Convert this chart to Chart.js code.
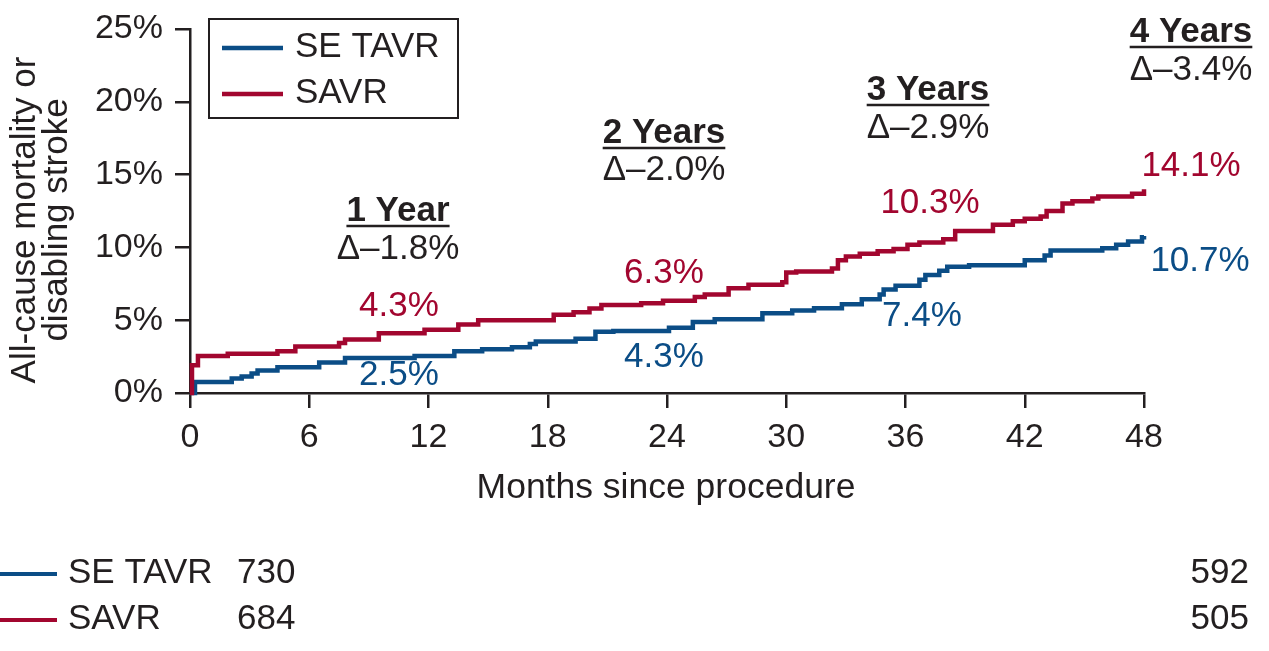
<!DOCTYPE html>
<html>
<head>
<meta charset="utf-8">
<script src="https://cdn.jsdelivr.net/npm/chart.js@4.4.1/dist/chart.umd.min.js"></script>
<style>
  body { margin: 0; background: #fff; }
  #wrap { width: 1269px; height: 651px; position: relative; }
</style>
</head>
<body>
<div id="wrap"><canvas id="kmChart"></canvas></div>
<script>
/* Data */
const seriesNames = ["SE TAVR", "SAVR"];

const monthsTavr = [0, 0.25, 2.1, 2.6, 3.1, 3.4, 4.4, 6.5, 7.8, 11.3, 13.3, 14.7, 16.2, 17.1, 17.4, 19.4, 20.4, 21.3, 24.1, 25.3, 26.4, 28.8, 30.3, 31.4, 32.8, 33.8, 34.7, 34.9, 35.5, 36.7, 37.0, 37.7, 38.1, 39.2, 42.0, 43.0, 43.3, 45.9, 46.6, 47.2, 47.9, 48.0];
const pctTavr = [0, 0.76, 1.0, 1.13, 1.34, 1.54, 1.76, 2.1, 2.4, 2.54, 2.87, 3.0, 3.14, 3.36, 3.54, 3.72, 4.2, 4.26, 4.48, 4.88, 5.06, 5.48, 5.66, 5.82, 6.1, 6.44, 6.77, 7.1, 7.37, 7.77, 8.1, 8.4, 8.67, 8.78, 9.11, 9.44, 9.78, 9.94, 10.18, 10.41, 10.7, 10.78];

const monthsSavr = [0, 0.1, 0.4, 1.9, 4.4, 5.3, 7.5, 7.8, 9.5, 11.8, 13.5, 14.5, 18.3, 19.3, 20.1, 20.7, 22.7, 23.8, 25.4, 25.9, 27.1, 28.1, 29.8, 30.0, 30.5, 32.3, 32.6, 33.0, 33.7, 34.6, 35.4, 36.1, 36.7, 37.9, 38.5, 40.4, 41.4, 42.0, 42.8, 43.1, 43.9, 44.4, 45.4, 45.7, 47.4, 48.0];
const pctSavr = [0, 1.9, 2.54, 2.7, 2.87, 3.2, 3.43, 3.68, 4.1, 4.34, 4.7, 5.0, 5.37, 5.55, 5.8, 6.04, 6.17, 6.33, 6.6, 6.77, 7.2, 7.44, 7.6, 8.27, 8.35, 8.55, 9.11, 9.38, 9.56, 9.74, 9.89, 10.18, 10.34, 10.56, 11.12, 11.56, 11.79, 11.96, 12.12, 12.5, 13.01, 13.17, 13.35, 13.5, 13.68, 14.0];

const xTicks = [0, 6, 12, 18, 24, 30, 36, 42, 48];
const yTicks = [0, 5, 10, 15, 20, 25];

const yearLabels = ["1 Year", "2 Years", "3 Years", "4 Years"];
const deltaLabels = ["\u0394\u20131.8%", "\u0394\u20132.0%", "\u0394\u20132.9%", "\u0394\u20133.4%"];
const savrRates = ["4.3%", "6.3%", "10.3%", "14.1%"];
const tavrRates = ["2.5%", "4.3%", "7.4%", "10.7%"];

const riskTavr = [730, 592];
const riskSavr = [684, 505];

const BLUE = "#0b4d86";
const RED = "#a2062f";
const INK = "#231f20";
const FONT = '"Liberation Sans", Arial, Helvetica, sans-serif';

function toPoints(xs, ys) {
  return xs.map((x, i) => ({ x: x, y: ys[i] }));
}

/* Text, legend box and number-at-risk rows */
const overlay = {
  id: "overlay",
  afterDraw(chart) {
    const ctx = chart.ctx;
    ctx.save();
    ctx.textBaseline = "middle";

    // y axis title (two rotated lines)
    ctx.fillStyle = INK;
    ctx.font = "35px " + FONT;
    ctx.textAlign = "center";
    [["All-cause mortality or", 25], ["disabling stroke", 57]].forEach(([t, x]) => {
      ctx.save();
      ctx.translate(x, 220);
      ctx.rotate(-Math.PI / 2);
      ctx.fillText(t, 0, 0);
      ctx.restore();
    });

    // x axis title
    ctx.font = "35.5px " + FONT;
    ctx.fillText("Months since procedure", 666, 488);

    // legend box
    ctx.font = "35px " + FONT;
    ctx.strokeStyle = INK;
    ctx.lineWidth = 2;
    ctx.strokeRect(209, 19, 249, 99);
    ctx.lineWidth = 4.5;
    [[BLUE, 48], [RED, 94]].forEach(([c, y], i) => {
      ctx.strokeStyle = c;
      ctx.beginPath();
      ctx.moveTo(222, y);
      ctx.lineTo(283, y);
      ctx.stroke();
      ctx.fillStyle = INK;
      ctx.textAlign = "left";
      ctx.fillText(seriesNames[i], 295, y - 1);
    });

    // year headings and deltas
    const headPos = [[398, 211, 249], [664, 133, 170], [928, 90, 128], [1191, 32, 70]];
    headPos.forEach(([x, yh, yd], i) => {
      ctx.fillStyle = INK;
      ctx.textAlign = "center";
      ctx.font = "bold 35px " + FONT;
      ctx.fillText(yearLabels[i], x, yh);
      const w = ctx.measureText(yearLabels[i]).width;
      ctx.strokeStyle = INK;
      ctx.lineWidth = 2.5;
      ctx.beginPath();
      ctx.moveTo(x - w / 2, yh + 15);
      ctx.lineTo(x + w / 2, yh + 15);
      ctx.stroke();
      ctx.font = "35px " + FONT;
      ctx.fillText(deltaLabels[i], x, yd);
    });

    // rate labels
    ctx.font = "35px " + FONT;
    ctx.textAlign = "center";
    const savrPos = [[399, 306], [664, 273], [930, 203], [1191, 166]];
    const tavrPos = [[399, 375], [664, 357], [922, 316], [1200, 261]];
    ctx.fillStyle = RED;
    savrPos.forEach(([x, y], i) => ctx.fillText(savrRates[i], x, y));
    ctx.fillStyle = BLUE;
    tavrPos.forEach(([x, y], i) => ctx.fillText(tavrRates[i], x, y));

    // number at risk rows
    const rows = [[seriesNames[0], riskTavr, BLUE, 573], [seriesNames[1], riskSavr, RED, 619]];
    rows.forEach(([name, nums, c, y]) => {
      ctx.strokeStyle = c;
      ctx.lineWidth = 4;
      ctx.beginPath();
      ctx.moveTo(0, y + 1);
      ctx.lineTo(57, y + 1);
      ctx.stroke();
      ctx.fillStyle = INK;
      ctx.textAlign = "left";
      ctx.fillText(name, 68, y);
      ctx.fillText(String(nums[0]), 237, y);
      ctx.textAlign = "right";
      ctx.fillText(String(nums[1]), 1249, y);
    });

    ctx.restore();
  }
};

const ctx = document.getElementById("kmChart").getContext("2d");
const chart = new Chart(ctx, {
  type: "line",
  data: {
    datasets: [
      {
        label: seriesNames[1],
        data: toPoints(monthsSavr, pctSavr),
        borderColor: RED,
        borderWidth: 4.5,
        stepped: true,
        pointRadius: 0,
        fill: false
      },
      {
        label: seriesNames[0],
        data: toPoints(monthsTavr, pctTavr),
        borderColor: BLUE,
        borderWidth: 4.5,
        stepped: true,
        pointRadius: 0,
        fill: false
      }
    ]
  },
  options: {
    responsive: true,
    maintainAspectRatio: false,
    animation: false,
    clip: false,
    layout: { padding: { left: 0, top: 19, right: 125, bottom: 0 } },
    plugins: {
      legend: { display: false },
      tooltip: { enabled: false }
    },
    scales: {
      x: {
        type: "linear",
        min: 0,
        max: 48,
        afterBuildTicks: s => { s.ticks = xTicks.map(v => ({ value: v })); },
        afterFit: s => { s.height = 258; },
        border: { color: INK, width: 2.5 },
        grid: { drawOnChartArea: false, drawTicks: true, tickLength: 15, color: INK, lineWidth: 2.5 },
        ticks: {
          color: INK,
          font: { family: FONT, size: 34, lineHeight: 1 },
          padding: 13,
          maxRotation: 0,
          autoSkip: false
        }
      },
      y: {
        min: 0,
        max: 25,
        afterBuildTicks: s => { s.ticks = yTicks.map(v => ({ value: v })); },
        afterFit: s => { s.width = 190; },
        border: { color: INK, width: 2.5 },
        grid: { drawOnChartArea: false, drawTicks: true, tickLength: 15, color: INK, lineWidth: 2.5 },
        ticks: {
          color: INK,
          font: { family: FONT, size: 34, lineHeight: 1 },
          padding: 12,
          callback: v => v + "%"
        }
      }
    }
  },
  plugins: [overlay]
});
</script>
</body>
</html>
